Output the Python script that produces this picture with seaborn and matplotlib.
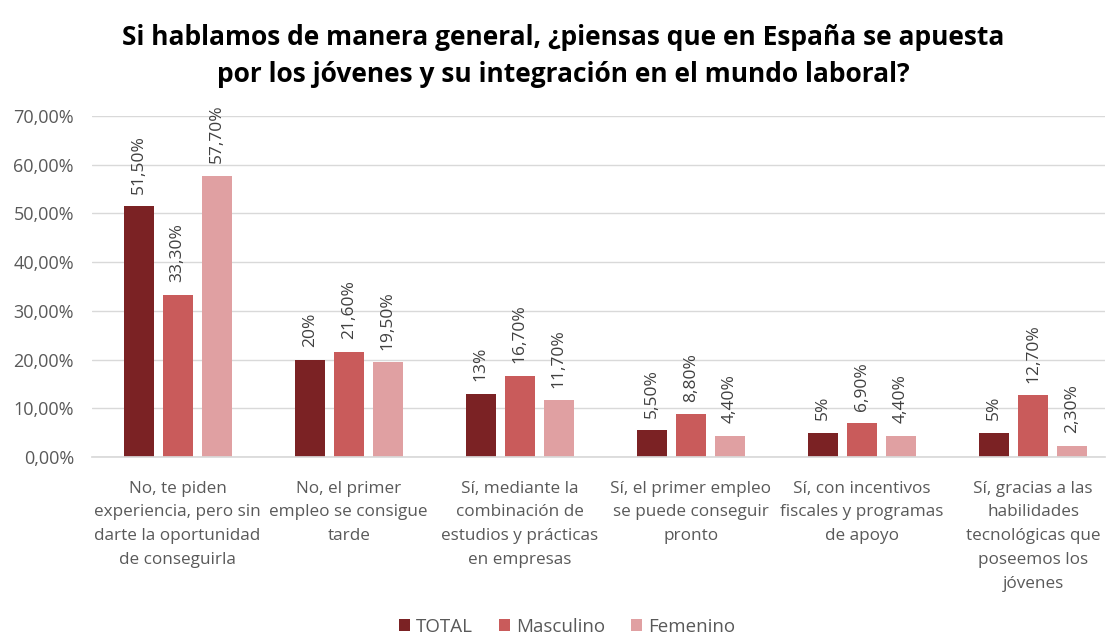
import matplotlib
matplotlib.use("Agg")
import matplotlib.pyplot as plt
import seaborn as sns
import pandas as pd
from matplotlib.ticker import FuncFormatter

categories = [
    "No, te piden\nexperiencia, pero sin\ndarte la oportunidad\nde conseguirla",
    "No, el primer\nempleo se consigue\ntarde",
    "Sí, mediante la\ncombinación de\nestudios y prácticas\nen empresas",
    "Sí, el primer empleo\nse puede conseguir\npronto",
    "Sí, con incentivos\nfiscales y programas\nde apoyo",
    "Sí, gracias a las\nhabilidades\ntecnológicas que\nposeemos los\njóvenes",
]
series_names = ["TOTAL", "Masculino", "Femenino"]
total = [51.5, 20.0, 13.0, 5.5, 5.0, 5.0]
masculino = [33.3, 21.6, 16.7, 8.8, 6.9, 12.7]
femenino = [57.7, 19.5, 11.7, 4.4, 4.4, 2.3]
label_total = ["51,50%", "20%", "13%", "5,50%", "5%", "5%"]
label_masc = ["33,30%", "21,60%", "16,70%", "8,80%", "6,90%", "12,70%"]
label_fem = ["57,70%", "19,50%", "11,70%", "4,40%", "4,40%", "2,30%"]
title = "Si hablamos de manera general, ¿piensas que en España se apuesta\npor los jóvenes y su integración en el mundo laboral?"

colors = ["#7B2224", "#C95B5B", "#E0A0A2"]

rows = []
for vals, name in zip([total, masculino, femenino], series_names):
    for c, v in zip(categories, vals):
        rows.append({"cat": c, "serie": name, "val": v})
df = pd.DataFrame(rows)

sns.set_theme(style="white")
plt.rcParams["font.family"] = ["Open Sans", "DejaVu Sans"]

fig = plt.figure(figsize=(11.1, 6.35), dpi=100)
ax = fig.add_axes([92/1110, 1 - 457/635, (1105-92)/1110, (457-116)/635])

sns.barplot(data=df, x="cat", y="val", hue="serie", order=categories,
            hue_order=series_names, palette=colors, width=0.684, gap=0.23,
            saturation=1, ax=ax, legend=True, linewidth=0)

ax.set_ylim(0, 70)
ax.set_xlim(-0.5, 5.42)
ax.set_yticks(range(0, 71, 10))
ax.yaxis.set_major_formatter(FuncFormatter(lambda v, p: f"{v:.2f}".replace(".", ",") + "%"))
ax.grid(axis="y", color="#D9D9D9", linewidth=1)
ax.set_axisbelow(True)
for s in ["top", "right", "left"]:
    ax.spines[s].set_visible(False)
ax.spines["bottom"].set_color("#D9D9D9")
ax.tick_params(axis="y", length=0, labelsize=13, labelcolor="#595959", pad=13)
ax.tick_params(axis="x", length=0, labelsize=12.3, labelcolor="#595959", pad=17)
for t in ax.get_xticklabels():
    t.set_linespacing(1.65)
ax.set_xlabel("")
ax.set_ylabel("")

for cont, labs in zip(ax.containers, [label_total, label_masc, label_fem]):
    ax.bar_label(cont, labels=labs, rotation=90, padding=9, fontsize=12.5,
                 color="#404040")

handles, labels = ax.get_legend_handles_labels()
ax.legend(handles, labels, loc="center", bbox_to_anchor=((567 - 92) / 1013, -(627 - 457) / 341),
          ncol=3, frameon=False, fontsize=13.5, handlelength=0.6, handleheight=0.6,
          handletextpad=0.3, columnspacing=1.4, labelcolor="#595959")

fig.text(563/1110, 1 - 56/635, title, ha="center", va="center", fontsize=19,
         fontweight="bold", color="#000000", linespacing=1.5)

fig.savefig("out.png", dpi=100, facecolor="white")
